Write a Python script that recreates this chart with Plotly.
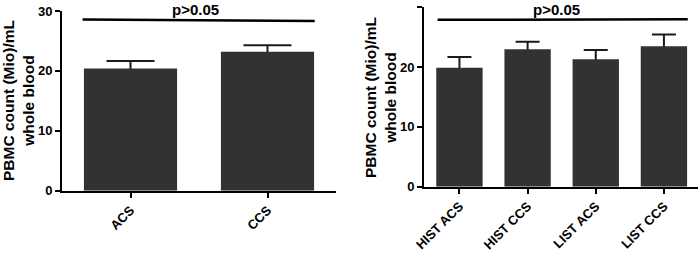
import plotly.graph_objects as go

# ---- data ----
left_categories = ["ACS", "CCS"]
left_means = [20.4, 23.2]
left_errors = [1.25, 1.07]

right_categories = ["HIST ACS", "HIST CCS", "LIST ACS", "LIST CCS"]
right_means = [19.9, 23.0, 21.3, 23.5]
right_errors = [1.8, 1.25, 1.55, 1.95]

y_ticks = [0, 10, 20, 30]
y_title = "PBMC count (Mio)/mL<br>whole blood"
sig_text = "p>0.05"
left_sig_y = [28.6, 28.35]
right_sig_y = [27.9, 28.0]

BAR = "#323232"
FONT = "Arial, Liberation Sans, sans-serif"

fig = go.Figure()

def add_panel(cats, means, errs, xa, ya, capw):
    # error bars (hidden under the bars below the bar top)
    fig.add_trace(go.Bar(x=cats, y=means, xaxis=xa, yaxis=ya, width=0.68,
                         marker=dict(color="rgba(0,0,0,0)", line=dict(width=0)),
                         error_y=dict(type="data", array=errs, symmetric=True,
                                      color="#1a1a1a", thickness=2, width=capw),
                         showlegend=False, hoverinfo="skip"))
    fig.add_trace(go.Bar(x=cats, y=means, xaxis=xa, yaxis=ya, width=0.68,
                         marker=dict(color=BAR, line=dict(width=0)),
                         showlegend=False))

add_panel(left_categories, left_means, left_errors, "x", "y", 24)
add_panel(right_categories, right_means, right_errors, "x2", "y2", 12)

axis_common = dict(showline=True, linecolor="black", linewidth=2, ticks="outside",
                   ticklen=5, tickwidth=2, tickcolor="black", showgrid=False,
                   zeroline=False, automargin=False,
                   tickfont=dict(family=FONT, size=13, color="black", weight="bold"))

fig.update_layout(
    width=700, height=254, margin=dict(l=0, r=0, t=0, b=0, autoexpand=False),
    plot_bgcolor="white", paper_bgcolor="white", barmode="overlay",
    xaxis=dict(domain=[62/700, 336/700], anchor="y", type="category",
               range=[-0.5, 1.5], tickangle=-45, **axis_common),
    yaxis=dict(domain=[1-190.7/254, 1-11/254], anchor="x", range=[0, 30],
               tickvals=y_ticks, **axis_common),
    xaxis2=dict(domain=[424/700, 698/700], anchor="y2", type="category",
                range=[-0.52, 3.5], tickangle=-45, **axis_common),
    yaxis2=dict(domain=[1-186.7/254, 1-7.3/254], anchor="x2", range=[0, 30],
                tickvals=y_ticks, **axis_common),
)

# significance lines and text
fig.add_shape(type="line", xref="x", yref="y", x0=-0.35, x1=1.345,
              y0=left_sig_y[0], y1=left_sig_y[1], line=dict(color="black", width=2.5))
fig.add_shape(type="line", xref="x2", yref="y2", x0=-0.32, x1=3.35,
              y0=right_sig_y[0], y1=right_sig_y[1], line=dict(color="black", width=2.5))

fig.add_annotation(xref="x", yref="y", x=0.475, y=left_sig_y[0], text=sig_text,
                   showarrow=False, yanchor="bottom", yshift=-1,
                   font=dict(family=FONT, size=15, color="black", weight="bold"))
fig.add_annotation(xref="x2", yref="y2", x=1.43, y=right_sig_y[1], text=sig_text,
                   showarrow=False, yanchor="bottom", yshift=-1,
                   font=dict(family=FONT, size=15, color="black", weight="bold"))

# y titles
fig.add_annotation(xref="paper", yref="paper", x=19/700, y=1-101/254, text=y_title,
                   textangle=-90, showarrow=False, xanchor="center", yanchor="middle",
                   font=dict(family=FONT, size=15.5, color="black", weight="bold"))
fig.add_annotation(xref="paper", yref="paper", x=380/700, y=1-97/254, text=y_title,
                   textangle=-90, showarrow=False, xanchor="center", yanchor="middle",
                   font=dict(family=FONT, size=15.5, color="black", weight="bold"))

fig.write_html("out.html", config={"displayModeBar": False},
               post_script="document.body.style.margin='0';document.body.style.overflow='hidden';")
